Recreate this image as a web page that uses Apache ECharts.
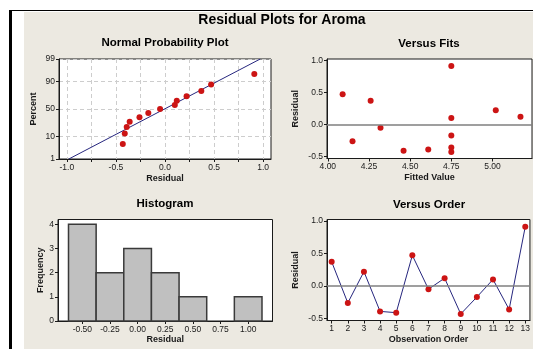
<!DOCTYPE html>
<html><head><meta charset="utf-8">
<script src="https://cdn.jsdelivr.net/npm/echarts@6/dist/echarts.min.js"></script>
<style>
html,body{margin:0;padding:0;background:#fff;}
#wrap{position:relative;width:533px;height:349px;overflow:hidden;}
#beige{position:absolute;left:24px;top:12px;width:509px;height:337px;background:#ECE9E1;}
#topline{position:absolute;left:9px;top:10px;width:524px;height:1px;background:#000;}
#leftline{position:absolute;left:9px;top:10px;width:3px;height:339px;background:#000;}
#chart{position:absolute;left:0;top:0;width:533px;height:349px;}
</style></head><body>
<div id="wrap"><div id="beige"></div><div id="topline"></div><div id="leftline"></div><div id="chart"></div></div>
<script>
// ---------- data ----------
const mainTitle = 'Residual Plots for Aroma';
const panelTitles = ['Normal Probability Plot', 'Versus Fits', 'Histogram', 'Versus Order'];
const observationOrder = [1, 2, 3, 4, 5, 6, 7, 8, 9, 10, 11, 12, 13];
const residuals = [0.37, -0.26, 0.22, -0.39, -0.41, 0.47, -0.05, 0.12, -0.43, -0.17, 0.10, -0.36, 0.91];
const fittedValues = [4.26, 4.15, 5.02, 4.61, 4.46, 4.09, 4.32, 5.17, 4.75, 4.75, 4.75, 4.75, 4.75];
const nppPercent = [5.2, 12.7, 20.1, 27.6, 35.1, 42.5, 50.0, 57.5, 64.9, 72.4, 79.9, 87.3, 94.8];
const fitLineResidual = [-0.98, 0.97];
const fitLinePercent = [1, 99];
const histBinCenters = [-0.50, -0.25, 0.00, 0.25, 0.50, 0.75, 1.00];
const histCounts = [4, 2, 3, 2, 1, 0, 1];
const histBinWidth = 0.25;
const nppPercentTicks = [1, 10, 50, 90, 99];
const nppResidualTicks = [-1.0, -0.75, -0.5, -0.25, 0, 0.25, 0.5, 0.75, 1.0];
const nppResidualLabels = [-1.0, -0.5, 0, 0.5, 1.0];
const fitsTicks = [4.00, 4.25, 4.50, 4.75, 5.00];
const residualTicks = [-0.5, 0, 0.5, 1.0];
const freqTicks = [0, 1, 2, 3, 4];

// ---------- helpers ----------
function normInv(p) {
  const a = [-3.969683028665376e+01, 2.209460984245205e+02, -2.759285104469687e+02, 1.383577518672690e+02, -3.066479806614716e+01, 2.506628277459239e+00];
  const b = [-5.447609879822406e+01, 1.615858368580409e+02, -1.556989798598866e+02, 6.680131188771972e+01, -1.328068155288572e+01];
  const c = [-7.784894002430293e-03, -3.223964580411365e-01, -2.400758277161838e+00, -2.549732539343734e+00, 4.374664141464968e+00, 2.938163982698783e+00];
  const d = [7.784695709041462e-03, 3.224671290700398e-01, 2.445134137142996e+00, 3.754408661907416e+00];
  const pl = 0.02425, ph = 1 - pl;
  let q, r;
  if (p < pl) { q = Math.sqrt(-2 * Math.log(p)); return (((((c[0]*q+c[1])*q+c[2])*q+c[3])*q+c[4])*q+c[5]) / ((((d[0]*q+d[1])*q+d[2])*q+d[3])*q+1); }
  if (p > ph) { q = Math.sqrt(-2 * Math.log(1 - p)); return -(((((c[0]*q+c[1])*q+c[2])*q+c[3])*q+c[4])*q+c[5]) / ((((d[0]*q+d[1])*q+d[2])*q+d[3])*q+1); }
  q = p - 0.5; r = q * q;
  return (((((a[0]*r+a[1])*r+a[2])*r+a[3])*r+a[4])*r+a[5])*q / (((((b[0]*r+b[1])*r+b[2])*r+b[3])*r+b[4])*r+1);
}
const FONT = '"Liberation Sans", Arial, sans-serif';
const INK = '#1a1a1a';
const RED = '#cc1414';
const NAVY = '#26267e';

const nppZTicks = nppPercentTicks.map(p => normInv(p / 100));
const sortedResiduals = residuals.slice().sort((x, y) => x - y);

function axis(o) {
  return {
    type: 'value', gridIndex: o.grid, min: o.min, max: o.max,
    name: o.name || '', nameLocation: 'middle', nameGap: o.nameGap || 15,
    nameTextStyle: { fontSize: 9, fontWeight: 'bold', color: INK, fontFamily: FONT },
    axisLine: { show: true, onZero: false, lineStyle: { color: INK, width: 1 } },
    axisTick: { show: true, length: 3, customValues: o.ticks, lineStyle: { color: INK, width: 1 } },
    axisLabel: { show: true, fontSize: 8.5, color: INK, fontFamily: FONT, margin: 4,
      customValues: o.labels || o.ticks, formatter: o.fmt },
    splitLine: o.split ? { show: true, lineStyle: { color: '#cdcdcd', width: 1, type: [4, 3] } } : { show: false }
  };
}

const gridBase = { show: true, backgroundColor: '#ffffff', borderColor: INK, borderWidth: 1, containLabel: false };

const option = {
  animation: false,
  backgroundColor: 'transparent',
  textStyle: { fontFamily: FONT },
  grid: [
    Object.assign({ left: 59, top: 59, width: 212, height: 100 }, gridBase),
    Object.assign({ left: 327, top: 59, width: 205, height: 99.5 }, gridBase),
    Object.assign({ left: 58, top: 219.5, width: 214.5, height: 101.5 }, gridBase),
    Object.assign({ left: 327, top: 219.5, width: 205, height: 101 }, gridBase)
  ],
  xAxis: [
    axis({ grid: 0, min: -1.08, max: 1.08, ticks: nppResidualTicks, labels: nppResidualLabels,
      fmt: v => v.toFixed(1), name: 'Residual', nameGap: 15, split: true }),
    axis({ grid: 1, min: 3.995, max: 5.24, ticks: fitsTicks, fmt: v => v.toFixed(2), name: 'Fitted Value', nameGap: 15 }),
    axis({ grid: 2, min: -0.72, max: 1.22, ticks: histBinCenters, fmt: v => v.toFixed(2), name: 'Residual', nameGap: 14 }),
    axis({ grid: 3, min: 0.71, max: 13.29, ticks: observationOrder, fmt: v => String(Math.round(v)), name: 'Observation Order', nameGap: 15 })
  ],
  yAxis: [
    axis({ grid: 0, min: normInv(0.01), max: normInv(0.99), ticks: nppZTicks, split: true,
      fmt: v => { let k = 0; nppZTicks.forEach((z, i) => { if (Math.abs(z - v) < Math.abs(nppZTicks[k] - v)) k = i; }); return String(nppPercentTicks[k]); },
      name: 'Percent', nameGap: 21 }),
    axis({ grid: 1, min: -0.53, max: 1.02, ticks: residualTicks, fmt: v => v.toFixed(1), name: 'Residual', nameGap: 27 }),
    axis({ grid: 2, min: 0, max: 4.2, ticks: freqTicks, fmt: v => String(v), name: 'Frequency', nameGap: 13 }),
    axis({ grid: 3, min: -0.53, max: 1.02, ticks: residualTicks, fmt: v => v.toFixed(1), name: 'Residual', nameGap: 27 })
  ],
  graphic: [
    { type: 'text', x: 282, y: 20, style: { text: mainTitle, font: 'bold 14px ' + FONT, fill: '#000', align: 'center', verticalAlign: 'middle' } },
    { type: 'text', x: 165, y: 43, style: { text: panelTitles[0], font: 'bold 11.5px ' + FONT, fill: '#000', align: 'center', verticalAlign: 'middle' } },
    { type: 'text', x: 429, y: 43.5, style: { text: panelTitles[1], font: 'bold 11.5px ' + FONT, fill: '#000', align: 'center', verticalAlign: 'middle' } },
    { type: 'text', x: 165, y: 204, style: { text: panelTitles[2], font: 'bold 11.5px ' + FONT, fill: '#000', align: 'center', verticalAlign: 'middle' } },
    { type: 'text', x: 429, y: 204.5, style: { text: panelTitles[3], font: 'bold 11.5px ' + FONT, fill: '#000', align: 'center', verticalAlign: 'middle' } }
  ],
  series: [
    { type: 'line', xAxisIndex: 0, yAxisIndex: 0, showSymbol: false, symbol: 'none',
      lineStyle: { color: NAVY, width: 1 }, z: 3,
      data: fitLineResidual.map((r, i) => [r, normInv(fitLinePercent[i] / 100)]) },
    { type: 'scatter', xAxisIndex: 0, yAxisIndex: 0, symbolSize: 6, itemStyle: { color: RED, opacity: 1 }, z: 4,
      data: sortedResiduals.map((r, i) => [r, normInv(nppPercent[i] / 100)]) },
    { type: 'scatter', xAxisIndex: 1, yAxisIndex: 1, symbolSize: 6, itemStyle: { color: RED, opacity: 1 }, z: 4,
      data: fittedValues.map((f, i) => [f, residuals[i]]),
      markLine: { silent: true, symbol: 'none', label: { show: false }, animation: false,
        lineStyle: { color: '#7f7f7f', width: 1.5, type: 'solid' }, data: [{ yAxis: 0 }] } },
    { type: 'custom', xAxisIndex: 2, yAxisIndex: 2,
      data: histBinCenters.map((c, i) => [c, histCounts[i]]),
      renderItem: function (params, api) {
        const c = api.value(0), n = api.value(1);
        if (!n) return null;
        const p0 = api.coord([c - histBinWidth / 2, n]);
        const p1 = api.coord([c + histBinWidth / 2, 0]);
        return { type: 'rect', shape: { x: p0[0], y: p0[1], width: p1[0] - p0[0], height: p1[1] - p0[1] },
          style: { fill: '#c0c0c0', stroke: '#3a3a3a', lineWidth: 1.5 } };
      } },
    { type: 'line', xAxisIndex: 3, yAxisIndex: 3, symbol: 'circle', symbolSize: 6, showSymbol: true,
      itemStyle: { color: RED, opacity: 1 }, lineStyle: { color: NAVY, width: 1 }, z: 4,
      data: observationOrder.map((o, i) => [o, residuals[i]]),
      markLine: { silent: true, symbol: 'none', label: { show: false }, animation: false,
        lineStyle: { color: '#7f7f7f', width: 1.5, type: 'solid' }, data: [{ yAxis: 0 }] } }
  ]
};
const chart = echarts.init(document.getElementById('chart'), null, { renderer: 'canvas' });
chart.setOption(option);
</script>
</body></html>
